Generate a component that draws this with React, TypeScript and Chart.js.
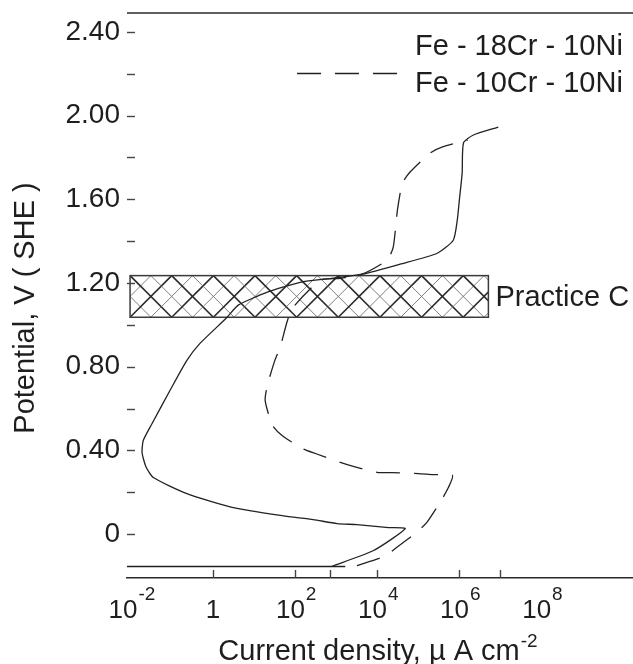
import React, { useEffect, useRef } from "react";
import { Chart, registerables } from "chart.js";

Chart.register(...registerables);

const FONT = '"Liberation Sans", Arial, Helvetica, sans-serif';
const INK = "#1e1e1e";

// Axis ranges (current density µA/cm², potential V SHE)
const X_MIN = 0.008;
const X_MAX = 1.7e10;
const Y_MIN = -0.21;
const Y_MAX = 2.49;

// Tick definitions
const Y_TICKS = [0, 0.2, 0.4, 0.6, 0.8, 1.0, 1.2, 1.4, 1.6, 1.8, 2.0, 2.2, 2.4];
const Y_LABELS = ["0", "", "0.40", "", "0.80", "", "1.20", "", "1.60", "", "2.00", "", "2.40"];
const X_TICK_MARKS = [1, 100, 700, 1e4, 1e6, 1e7];
const X_LABEL_VALUES = [1e-2, 1, 1e2, 1e4, 1e6, 1e8];
const X_LABEL_EXPONENTS = ["-2", "", "2", "4", "6", "8"];

// Fe - 18Cr - 10Ni (solid)
const CR18_I = [760, 7.9e3, 4.8e4, 1.9e4, 3.2e3, 1.05e3, 275, 51, 3.1, 0.23, 0.035, 0.023, 0.0186, 0.02, 0.031, 0.089, 0.23, 0.48, 2.2, 4.1, 21, 132, 850, 4.3e3, 3.6e4, 2.9e5, 7.1e5, 8.9e5, 1.0e6, 1.17e6, 1.26e6, 2.2e6, 8.9e6];
const CR18_E = [-0.155, -0.08, 0.026, 0.031, 0.045, 0.05, 0.069, 0.087, 0.126, 0.193, 0.27, 0.323, 0.39, 0.448, 0.52, 0.686, 0.83, 0.911, 1.036, 1.094, 1.156, 1.203, 1.223, 1.242, 1.29, 1.342, 1.404, 1.5, 1.596, 1.725, 1.869, 1.907, 1.945];

// Fe - 10Cr - 10Ni (dashed)
const CR10_I = [3.2e3, 1.6e4, 2.9e4, 8.9e4, 1.6e5, 3.6e5, 5.4e5, 6.8e5, 2.3e5, 1.0e5, 2.3e4, 1.05e4, 2.6e3, 1.26e3, 310, 148, 48, 28, 18.6, 21, 32, 43, 63, 85, 410, 1.26e3, 4.3e3, 1.74e4, 2.45e4, 3.1e4, 4.1e4, 6.3e4, 1.95e5, 3.9e5, 1.6e6];
const CR10_E = [-0.151, -0.104, -0.065, 0.007, 0.055, 0.16, 0.222, 0.28, 0.284, 0.289, 0.294, 0.294, 0.323, 0.342, 0.385, 0.409, 0.471, 0.519, 0.638, 0.71, 0.83, 0.892, 1.012, 1.079, 1.213, 1.222, 1.242, 1.309, 1.371, 1.548, 1.677, 1.73, 1.821, 1.85, 1.883];

// Starting baseline
const BASE_I = [0.008, 1660];
const BASE_E = [-0.155, -0.155];

// Practice C band
const BAND_I = [0.0095, 5.1e6];
const BAND_E = [1.036, 1.235];
const BAND_LABEL = "Practice C";

const SERIES_NAMES = ["Fe - 18Cr - 10Ni", "Fe - 10Cr - 10Ni"];
const X_TITLE = "Current density, µ A cm";
const X_TITLE_EXP = "-2";
const Y_TITLE = "Potential, V ( SHE )";

const toPoints = (xs: number[], ys: number[]) => xs.map((v, i) => ({ x: v, y: ys[i] }));

const decorPlugin = {
  id: "decor",
  beforeDatasetsDraw(chart: any) {
    const { ctx, scales } = chart;
    const x = scales.x, y = scales.y;
    const l = x.getPixelForValue(BAND_I[0]);
    const r = x.getPixelForValue(BAND_I[1]);
    const t = y.getPixelForValue(BAND_E[1]);
    const b = y.getPixelForValue(BAND_E[0]);
    const h = b - t;
    const step = h / 2;
    ctx.save();
    ctx.beginPath();
    ctx.rect(l, t, r - l, h);
    ctx.clip();
    for (let k = -4; l + k * step < r + step; k++) {
      const x0 = l + k * step;
      const thick = ((k % 2) + 2) % 2 === 0;
      ctx.lineWidth = thick ? 1.6 : 0.9;
      ctx.strokeStyle = thick ? "#2a2a2a" : "#707070";
      ctx.beginPath();
      ctx.moveTo(x0, t);
      ctx.lineTo(x0 + h, b);
      ctx.stroke();
      ctx.beginPath();
      ctx.moveTo(x0, b);
      ctx.lineTo(x0 + h, t);
      ctx.stroke();
    }
    ctx.restore();
    ctx.save();
    ctx.strokeStyle = "#3a3a3a";
    ctx.lineWidth = 1.5;
    ctx.strokeRect(l, t, r - l, h);
    ctx.fillStyle = INK;
    ctx.font = `29px ${FONT}`;
    ctx.textAlign = "left";
    ctx.textBaseline = "alphabetic";
    ctx.fillText(BAND_LABEL, r + 7, (t + b) / 2 + 10);
    ctx.restore();
  },
  afterDraw(chart: any) {
    const { ctx, chartArea, scales } = chart;
    const x = scales.x, y = scales.y;
    ctx.save();
    // top border
    ctx.strokeStyle = "#2a2a2a";
    ctx.lineWidth = 1.6;
    ctx.beginPath();
    ctx.moveTo(chartArea.left, chartArea.top);
    ctx.lineTo(chartArea.right, chartArea.top);
    ctx.stroke();
    // y inward ticks
    ctx.lineWidth = 1.4;
    ctx.strokeStyle = "#444";
    for (const v of Y_TICKS) {
      const py = Math.round(y.getPixelForValue(v)) + 0.5;
      ctx.beginPath();
      ctx.moveTo(chartArea.left, py);
      ctx.lineTo(chartArea.left + 8, py);
      ctx.stroke();
    }
    // x inward ticks
    for (const v of X_TICK_MARKS) {
      const px = Math.round(x.getPixelForValue(v)) + 0.5;
      ctx.beginPath();
      ctx.moveTo(px, chartArea.bottom);
      ctx.lineTo(px, chartArea.bottom - 8);
      ctx.stroke();
    }
    // x labels with superscripts
    ctx.fillStyle = INK;
    ctx.textBaseline = "alphabetic";
    ctx.textAlign = "left";
    const baseY = chartArea.bottom + 40;
    X_LABEL_VALUES.forEach((v, i) => {
      const px = x.getPixelForValue(v);
      const exp = X_LABEL_EXPONENTS[i];
      if (!exp) {
        ctx.font = `26px ${FONT}`;
        const w = ctx.measureText("1").width;
        ctx.fillText("1", px - w / 2, baseY);
        return;
      }
      ctx.font = `26px ${FONT}`;
      const wb = ctx.measureText("10").width;
      ctx.font = `19px ${FONT}`;
      const we = ctx.measureText(exp).width;
      const start = px - (wb + we + 1) / 2 + 1;
      ctx.font = `26px ${FONT}`;
      ctx.fillText("10", start, baseY);
      ctx.font = `19px ${FONT}`;
      ctx.fillText(exp, start + wb + 1, baseY - 18);
    });
    // x title
    ctx.font = `29px ${FONT}`;
    const wt = ctx.measureText(X_TITLE).width;
    ctx.font = `19px ${FONT}`;
    const wte = ctx.measureText(X_TITLE_EXP).width;
    const tStart = (chartArea.left + chartArea.right) / 2 - (wt + wte + 1) / 2 - 2;
    ctx.font = `29px ${FONT}`;
    ctx.fillText(X_TITLE, tStart, chartArea.bottom + 82);
    ctx.font = `19px ${FONT}`;
    ctx.fillText(X_TITLE_EXP, tStart + wt + 1, chartArea.bottom + 69);
    // y title
    ctx.save();
    ctx.translate(34, 308);
    ctx.rotate(-Math.PI / 2);
    ctx.font = `29px ${FONT}`;
    ctx.textAlign = "center";
    ctx.fillText(Y_TITLE, 0, 0);
    ctx.restore();
    // legend
    ctx.font = `29px ${FONT}`;
    ctx.textAlign = "left";
    ctx.fillText(SERIES_NAMES[0], 415, 55);
    ctx.fillText(SERIES_NAMES[1], 415, 92);
    ctx.strokeStyle = "#222";
    ctx.lineWidth = 1.3;
    ctx.setLineDash([24, 14]);
    ctx.beginPath();
    ctx.moveTo(297, 73.5);
    ctx.lineTo(403, 73.5);
    ctx.stroke();
    ctx.setLineDash([]);
    ctx.restore();
  },
};

export default function App() {
  const ref = useRef<HTMLCanvasElement>(null);
  useEffect(() => {
    const chart = new Chart(ref.current as HTMLCanvasElement, {
      type: "scatter",
      data: {
        datasets: [
          {
            label: SERIES_NAMES[0],
            data: toPoints(CR18_I, CR18_E),
            showLine: true,
            borderColor: "#222",
            borderWidth: 1.3,
            pointRadius: 0,
            tension: 0.2,
          },
          {
            label: SERIES_NAMES[1],
            data: toPoints(CR10_I, CR10_E),
            showLine: true,
            borderColor: "#222",
            borderWidth: 1.3,
            borderDash: [24, 14],
            pointRadius: 0,
            tension: 0.2,
          },
          {
            label: "baseline",
            data: toPoints(BASE_I, BASE_E),
            showLine: true,
            borderColor: "#222",
            borderWidth: 1.3,
            pointRadius: 0,
          },
        ],
      },
      options: {
        animation: false,
        responsive: false,
        devicePixelRatio: 1,
        layout: { padding: { left: 0, right: 0, top: 13, bottom: 0 } },
        plugins: { legend: { display: false }, tooltip: { enabled: false } },
        scales: {
          x: {
            type: "logarithmic",
            min: X_MIN,
            max: X_MAX,
            grid: { display: false, drawTicks: false },
            border: { display: true, color: "#2a2a2a", width: 1.6 },
            ticks: { display: false },
            afterBuildTicks: (s: any) => {
              s.ticks = X_TICK_MARKS.map((v) => ({ value: v }));
            },
            afterFit: (s: any) => {
              s.height = 86;
              s.paddingLeft = 0;
              s.paddingRight = 0;
              s.paddingTop = 0;
              s.paddingBottom = 0;
            },
          },
          y: {
            type: "linear",
            min: Y_MIN,
            max: Y_MAX,
            grid: { display: false, drawTicks: false },
            border: { display: false },
            afterBuildTicks: (s: any) => {
              s.ticks = Y_TICKS.map((v) => ({ value: v }));
            },
            ticks: {
              padding: 7,
              color: INK,
              font: { family: FONT, size: 28 },
              callback: (_v: any, i: number) => Y_LABELS[i],
            },
            afterFit: (s: any) => {
              s.width = 127;
              s.paddingLeft = 0;
              s.paddingRight = 0;
              s.paddingTop = 0;
              s.paddingBottom = 0;
            },
          },
        },
      },
      plugins: [decorPlugin],
    });
    return () => chart.destroy();
  }, []);
  return (
    <div style={{ position: "absolute", left: 0, top: 0, width: 633, height: 664, background: "#fff" }}>
      <canvas ref={ref} width={633} height={664} style={{ display: "block" }} />
    </div>
  );
}
